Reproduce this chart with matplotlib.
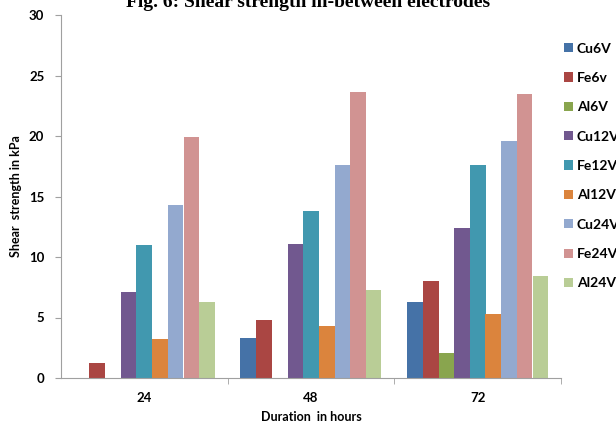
import numpy as np
import matplotlib
matplotlib.use("Agg")
import matplotlib.pyplot as plt

hours = ["24", "48", "72"]
series = ["Cu6V", "Fe6v", "Al6V", "Cu12V", "Fe12V", "Al12V", "Cu24V", "Fe24V", "Al24V"]
cu6 = [0, 3.3, 6.3]
fe6 = [1.2, 4.8, 8.0]
al6 = [0, 0, 2.1]
cu12 = [7.1, 11.1, 12.4]
fe12 = [11.0, 13.8, 17.6]
al12 = [3.2, 4.3, 5.3]
cu24 = [14.3, 17.6, 19.6]
fe24 = [19.9, 23.6, 23.5]
al24 = [6.3, 7.3, 8.4]
colors = ["#4572A7", "#AA4643", "#89A54E", "#71588F", "#4198AF",
          "#DB843D", "#93A9CF", "#D19392", "#B9CD96"]

values = [cu6, fe6, al6, cu12, fe12, al12, cu24, fe24, al24]

plt.rcParams['font.family'] = ['Lato', 'DejaVu Sans']

fig = plt.figure(figsize=(6.16, 4.28), dpi=100)
ax = fig.add_axes([61 / 616, 1 - 378 / 428, 500 / 616, 363 / 428])

x = np.arange(len(hours))
w = 0.094
for i, (name, vals) in enumerate(zip(series, values)):
    ax.bar(x + (i - 4) * w, vals, width=w, color=colors[i], label=name, linewidth=0)

ax.set_xlim(-0.5, 2.5)
ax.set_ylim(0, 30)
ax.set_yticks(range(0, 31, 5))
ax.set_xticks(x)
ax.set_xticklabels(hours, fontsize=9.5, fontweight='bold')
ax.set_xticks([0.5, 1.5, 2.5], minor=True)
ax.tick_params(axis='x', which='major', length=0, pad=10)
ax.tick_params(axis='x', which='minor', length=4, color='#A0A0A0', direction='out')
ax.tick_params(axis='y', length=4, color='#A0A0A0', labelsize=9.5, pad=8)
for lab in ax.get_yticklabels():
    lab.set_fontweight('bold')

for s in ['top', 'right']:
    ax.spines[s].set_visible(False)
for s in ['left', 'bottom']:
    ax.spines[s].set_color('#A0A0A0')
    ax.spines[s].set_linewidth(0.8)

ax.set_xlabel("Duration  in hours", fontsize=9, fontweight='bold', labelpad=5)
ax.set_ylabel("Shear  strength in kPa", fontsize=9, fontweight='bold', labelpad=5)

fig.text(0.5, 1 - 7 / 428, "Fig. 6: Shear strength in-between electrodes",
         ha='center', va='baseline', fontsize=14, fontweight='bold',
         family='Liberation Serif')

fig.legend(loc='upper left', bbox_to_anchor=(558 / 616, 1 - 37 / 428), frameon=False,
           prop={'weight': 'bold', 'size': 10}, handlelength=0.65, handleheight=0.65,
           handletextpad=0.3, labelspacing=1.25, borderaxespad=0)

fig.savefig("out.png", dpi=100)
